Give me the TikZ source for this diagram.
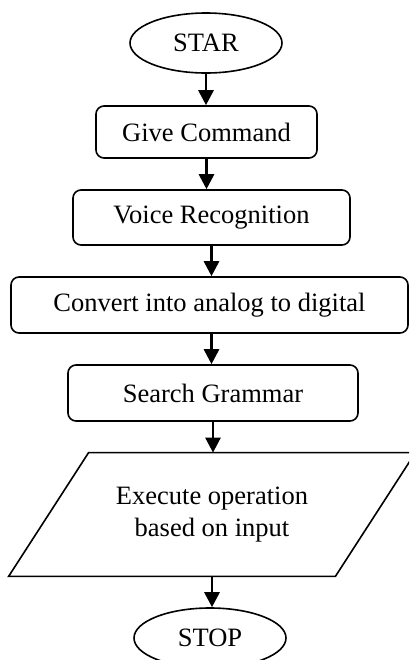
\documentclass[tikz,border=0pt]{standalone}
\usepackage{fontspec}
\setmainfont{Liberation Serif}
\usetikzlibrary{shapes.geometric,arrows.meta}
\begin{document}
\begin{tikzpicture}[x=0.5pt,y=-0.5pt,
   term/.style={ellipse,draw,line width=0.8pt,minimum width=76pt,minimum height=30pt,inner sep=0pt,
     font=\fontsize{13.25}{16}\selectfont},
   stepbox/.style={rectangle,rounded corners=4pt,draw,line width=0.8pt,inner sep=0pt,
     font=\fontsize{13.25}{16}\selectfont},
   flow/.style={line width=1.4pt,-{Triangle[width=7.5pt,length=7.5pt]}}]
   \useasboundingbox (0,0) rectangle (409,660);
   \clip (0,0) rectangle (409,660);
   \node [term] (star) at (206,43) {STAR};
   \node [stepbox,minimum width=110.5pt,minimum height=26pt] (give) at (206.5,132) {Give Command};
   \node [stepbox,minimum width=138.5pt,minimum height=27.5pt] (voice) at (211.5,217.5) {Voice Recognition};
   \node [stepbox,minimum width=198.5pt,minimum height=28pt] (convert) at (209.5,305) {Convert into analog to digital};
   \node [stepbox,minimum width=145pt,minimum height=28pt] (search) at (213,393) {Search Grammar};
   \node [rectangle,minimum width=163pt,minimum height=61.5pt,inner sep=0pt,align=center,
     font=\fontsize{13.25}{16}\selectfont] (exec) at (212,514.5) {Execute operation\\based on input};
   \draw [line width=0.8pt] ([xshift=20pt]exec.north west) -- ([xshift=20pt]exec.north east)
     -- ([xshift=-20pt]exec.south east) -- ([xshift=-20pt]exec.south west) -- cycle;
   \node [term] (stop) at (210,638) {STOP};
   \draw [flow] (star) -- (star |- give.north);
   \draw [flow] (give.south) -- (give.south |- voice.north);
   \draw [flow] (voice.south) -- (voice.south |- convert.north);
   \draw [flow] ([xshift=1pt]convert.south) -- ([xshift=1pt]convert.south |- search.north);
   \draw [flow] (search.south) -- (search.south |- exec.north);
   \draw [flow] (exec.south) -- (exec.south |- stop.north);
\end{tikzpicture}
\end{document}
